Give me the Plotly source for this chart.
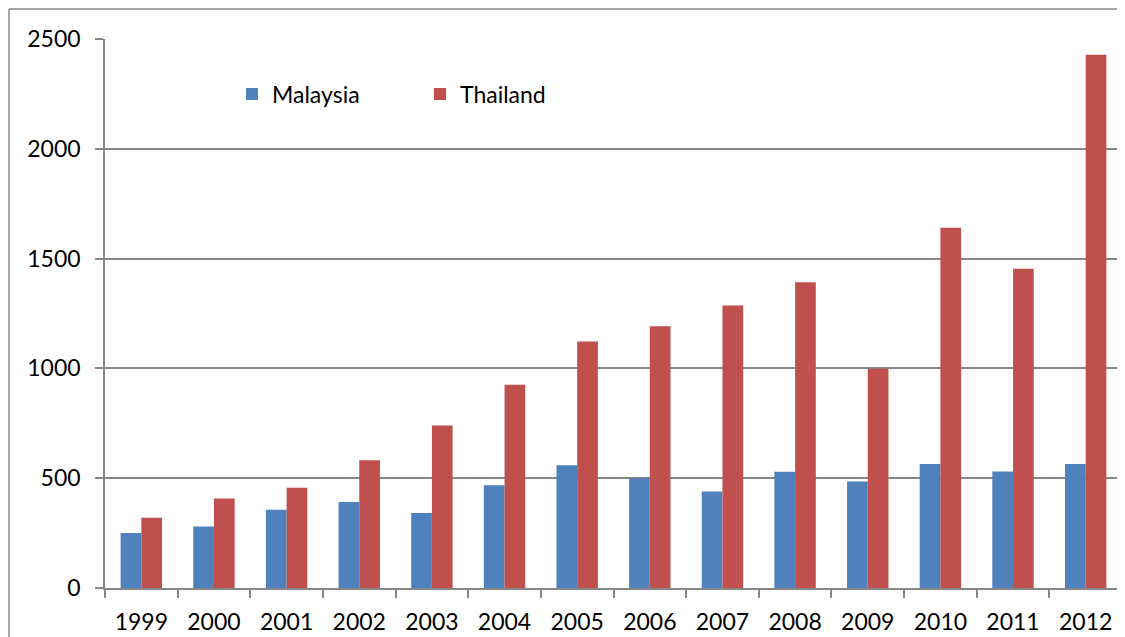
import plotly.graph_objects as go

years = ["1999", "2000", "2001", "2002", "2003", "2004", "2005", "2006",
         "2007", "2008", "2009", "2010", "2011", "2012"]
malaysia = [251, 280, 356, 392, 342, 468, 559, 500, 439, 529, 485, 565, 531, 565]
thailand = [320, 407, 456, 582, 740, 926, 1122, 1192, 1286, 1392, 998, 1641, 1454, 2428]
y_ticks = [0, 500, 1000, 1500, 2000, 2500]

FONT = "Lato"
fig = go.Figure()
fig.add_trace(go.Bar(x=years, y=malaysia, name="Malaysia",
                     marker=dict(color="#4F81BD", line=dict(width=0))))
fig.add_trace(go.Bar(x=years, y=thailand, name="Thailand",
                     marker=dict(color="#C0504D", line=dict(width=0))))

OFF = 8  # page body margin
W, H = 1125 - OFF, 637 - OFF
L, R, T = 105 - OFF, 3, 39 - OFF
B = H - (588 - OFF)
pw = W - L - R
ph = H - T - B

def px_to_paper_x(px):
    return (px - OFF - L) / pw

def px_to_paper_y(py):
    return (H - B - (py - OFF)) / ph

fig.update_layout(
    width=W, height=H,
    margin=dict(l=L, r=R, t=T, b=B, pad=0, autoexpand=False),
    paper_bgcolor="white", plot_bgcolor="white",
    barmode="group", bargap=0.43, bargroupgap=0,
    font=dict(family=FONT, size=23, color="black"),
    showlegend=True,
    legend=dict(orientation="h", x=px_to_paper_x(232), y=px_to_paper_y(94),
                xanchor="left", yanchor="middle",
                font=dict(family=FONT, size=23, color="black"),
                entrywidth=143, entrywidthmode="pixels",
                bgcolor="rgba(0,0,0,0)"),
    xaxis=dict(type="category", showgrid=False, showline=True,
               linecolor="#868686", linewidth=1.5, automargin=False,
               ticks="outside", tickson="boundaries", ticklen=8,
               tickcolor="#868686", tickwidth=1.5, ticklabelstandoff=13,
               tickfont=dict(family=FONT, size=23, color="black")),
    yaxis=dict(range=[0, 2500], tickvals=y_ticks, showgrid=True,
               gridcolor="#868686", gridwidth=1.5, automargin=False,
               showline=True, linecolor="#868686", linewidth=1.5,
               ticks="outside", ticklen=8, tickcolor="#868686", tickwidth=1.5,
               zeroline=False, ticklabelstandoff=10,
               tickfont=dict(family=FONT, size=23, color="black")),
)

# outer chart-area border (left and top edges visible)
fig.add_shape(type="line", xref="paper", yref="paper",
              x0=px_to_paper_x(9), x1=px_to_paper_x(9),
              y0=px_to_paper_y(9), y1=px_to_paper_y(650),
              line=dict(color="#868686", width=1.5))
fig.add_shape(type="line", xref="paper", yref="paper",
              x0=px_to_paper_x(9), x1=px_to_paper_x(1130),
              y0=px_to_paper_y(9), y1=px_to_paper_y(9),
              line=dict(color="#868686", width=1.5))

fig.write_html("out.html")
